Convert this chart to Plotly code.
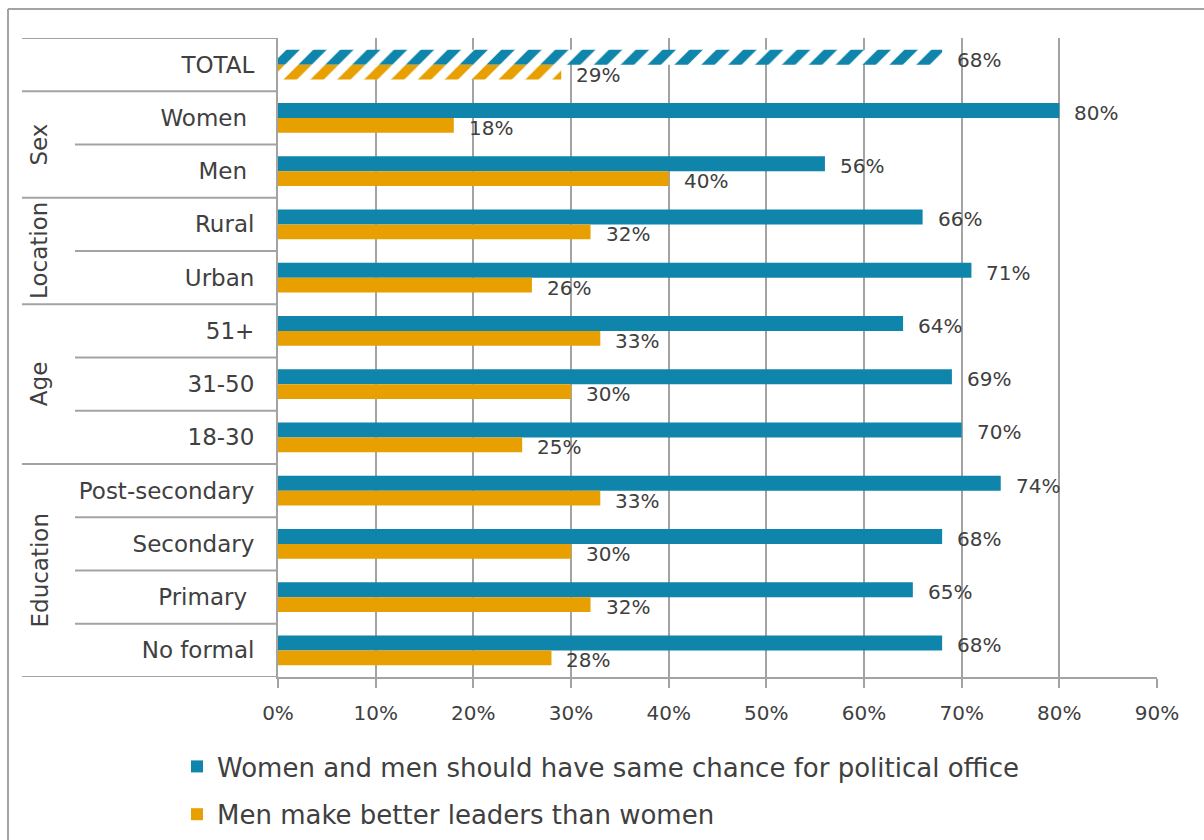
import plotly.graph_objects as go

# ---- data ----
categories = ["TOTAL", "Women", "Men", "Rural", "Urban", "51+", "31-50", "18-30",
              "Post-secondary", "Secondary", "Primary", "No formal"]
# row labels as printed (a few carry a trailing space)
row_labels = ["TOTAL", "Women\u00a0", "Men\u00a0", "Rural", "Urban", "51+", "31-50",
              "18-30", "Post-secondary", "Secondary", "Primary\u00a0", "No formal"]
same_chance = [68, 80, 56, 66, 71, 64, 69, 70, 74, 68, 65, 68]
better_leaders = [29, 18, 40, 32, 26, 33, 30, 25, 33, 30, 32, 28]
series_names = ["Women and men should have same chance for political office",
                "Men make better leaders than women"]
# group name, first category, last category
groups = [("Sex", "Women", "Men"),
          ("Location", "Rural", "Urban"),
          ("Age", "51+", "18-30"),
          ("Education", "Post-secondary", "No formal")]
x_ticks = [0, 10, 20, 30, 40, 50, 60, 70, 80, 90]

# ---- style ----
W, H = 1204, 840
BLUE = "#0F85AB"
ORANGE = "#E8A000"
GRID = "#A3A3A3"
TEXT = "#404040"
FONT = "DejaVu Sans"


def fx(px):
    return px / W


def fy(px):
    return 1 - px / H


fig = go.Figure()
for k, (name, vals, col) in enumerate([(series_names[0], same_chance, BLUE),
                                       (series_names[1], better_leaders, ORANGE)]):
    # the overall row is hatched, the breakdown rows are solid
    fig.add_trace(go.Bar(
        y=categories[:1], x=vals[:1], name=name, orientation="h",
        legendgroup=name, offsetgroup=str(k), showlegend=False,
        marker=dict(color="white", line=dict(width=0),
                    pattern=dict(shape="/", fgcolor=col, bgcolor="white",
                                 fgopacity=1, fillmode="replace",
                                 size=19, solidity=0.5)),
        hoverinfo="skip",
    ))
    fig.add_trace(go.Bar(
        y=categories[1:], x=vals[1:], name=name, orientation="h",
        legendgroup=name, offsetgroup=str(k),
        marker=dict(color=col, line=dict(width=0)),
        hoverinfo="skip",
    ))

annotations = []
# value labels next to each bar end
for vals, dy in [(same_chance, 5), (better_leaders, -10)]:
    for c, v in zip(categories, vals):
        annotations.append(dict(x=v, y=c, xref="x", yref="y", text=f"{v}%",
                                showarrow=False, xanchor="left", yanchor="middle",
                                xshift=13, yshift=dy,
                                font=dict(family=FONT, size=20, color=TEXT)))

shapes = []
idx = {c: i for i, c in enumerate(categories)}
# separators of the category panel: full width at group borders, short inside groups
full_bounds = {-0.5, 0.5, len(categories) - 0.5}
for g, first, last in groups:
    full_bounds.add(idx[first] - 0.5)
    full_bounds.add(idx[last] + 0.5)
for b in [i - 0.5 for i in range(len(categories) + 1)]:
    x0 = 22 if b in full_bounds else 75
    shapes.append(dict(type="line", xref="paper", yref="y",
                       x0=fx(x0), x1=fx(277), y0=b, y1=b,
                       line=dict(color=GRID, width=2)))

# rotated group names
for g, first, last in groups:
    annotations.append(dict(x=fx(39), y=(idx[first] + idx[last]) / 2,
                            xref="paper", yref="y", text=g, textangle=-90,
                            showarrow=False, xanchor="center", yanchor="middle",
                            font=dict(family=FONT, size=23, color=TEXT)))

# outer frame (top and left edges)
shapes.append(dict(type="line", xref="paper", yref="paper",
                   x0=fx(8), x1=1, y0=fy(9), y1=fy(9),
                   line=dict(color=GRID, width=2)))
shapes.append(dict(type="line", xref="paper", yref="paper",
                   x0=fx(8), x1=fx(8), y0=fy(9), y1=0,
                   line=dict(color=GRID, width=2)))

fig.update_layout(
    width=W, height=H, autosize=False,
    margin=dict(l=0, r=0, t=0, b=0, pad=0, autoexpand=False),
    paper_bgcolor="white", plot_bgcolor="white",
    barmode="group", bargap=0.44, bargroupgap=0,
    font=dict(family=FONT, size=20, color=TEXT),
    xaxis=dict(domain=[fx(278), fx(1157)], range=[0, 90], automargin=False,
               tickvals=x_ticks, ticktext=[f"{t}%" for t in x_ticks],
               showgrid=True, gridcolor=GRID, gridwidth=2,
               showline=True, linecolor=GRID, linewidth=2,
               ticks="outside", ticklen=9, tickcolor=GRID, tickwidth=2,
               ticklabelstandoff=8,
               zeroline=False, tickfont=dict(family=FONT, size=20, color=TEXT)),
    yaxis=dict(domain=[fy(677), fy(38)], type="category", automargin=False,
               categoryorder="array", categoryarray=categories,
               tickmode="array", tickvals=categories, ticktext=row_labels,
               range=[len(categories) - 0.5, -0.5],
               showgrid=False, zeroline=False,
               showline=True, linecolor=GRID, linewidth=2,
               ticks="", ticklabelstandoff=17,
               tickfont=dict(family=FONT, size=23, color=TEXT)),
    showlegend=True,
    legend=dict(x=fx(177), y=fy(743), xanchor="left", yanchor="top",
                orientation="v", tracegroupgap=11,
                font=dict(family=FONT, size=26, color=TEXT),
                bgcolor="rgba(0,0,0,0)"),
    shapes=shapes,
    annotations=annotations,
)

fig.write_html("out.html")
